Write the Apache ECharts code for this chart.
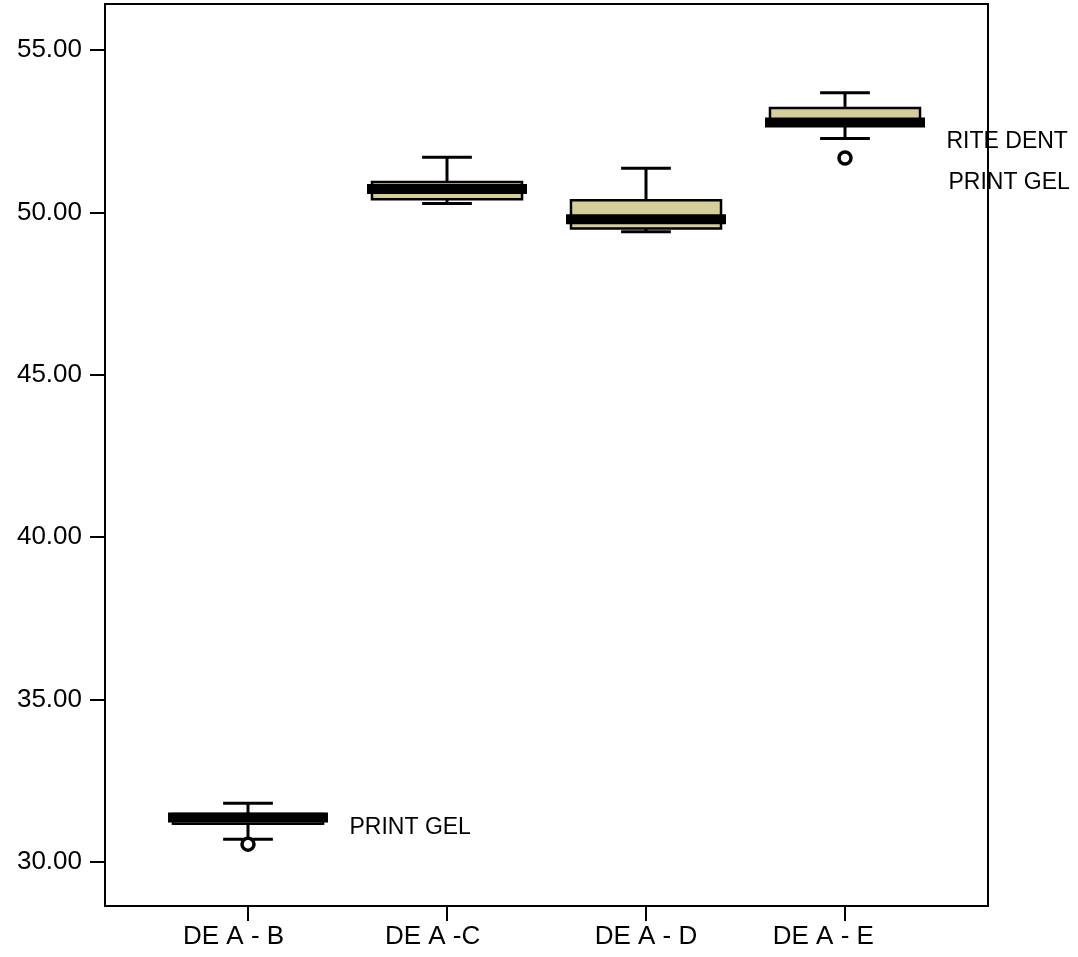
<!DOCTYPE html>
<html><head><meta charset="utf-8">
<script src="https://cdn.jsdelivr.net/npm/echarts@6/dist/echarts.min.js"></script>
<style>html,body{margin:0;padding:0;background:#fff}#c{width:1078px;height:957px}</style>
</head><body><div id="c"></div>
<script>
// ---- data ----
const categories = ['DE A - B    ', 'DE A -C    ', 'DE A - D', 'DE A - E      '];
const whiskerLow  = [30.70, 50.28, 49.41, 52.28];
const q1          = [31.18, 50.41, 49.51, 52.71];
const median      = [31.37, 50.72, 49.79, 52.77];
const q3          = [31.48, 50.94, 50.38, 53.22];
const whiskerHigh = [31.81, 51.70, 51.36, 53.69];
const outliers    = [[0, 30.55], [3, 51.68]];
const annotationX = [0.51, 3.51, 3.52];
const annotationY = [31.05, 52.18, 50.91];
const annotationText = ['PRINT GEL', 'RITE DENT', 'PRINT GEL'];
const yTicks = [30, 35, 40, 45, 50, 55];

const boxData = categories.map((c, i) => [i, whiskerLow[i], q1[i], median[i], q3[i], whiskerHigh[i]]);
const annData = annotationText.map((t, i) => [annotationX[i], annotationY[i], t]);

const SANS = '"Liberation Sans", Arial, sans-serif';

function renderBox(params, api) {
  const i = api.value(0), lo = api.value(1), a = api.value(2), m = api.value(3), b = api.value(4), hi = api.value(5);
  const boxHalf = 0.377, medHalf = 0.402, capHalf = 0.125;
  const pHi = api.coord([i, hi]), pLo = api.coord([i, lo]);
  const pQ1 = api.coord([i, a]), pQ3 = api.coord([i, b]);
  const bl = api.coord([i - boxHalf, b]), br = api.coord([i + boxHalf, a]);
  const ml = api.coord([i - medHalf, m]), mr = api.coord([i + medHalf, m]);
  const chl = api.coord([i - capHalf, hi]), chr = api.coord([i + capHalf, hi]);
  const cll = api.coord([i - capHalf, lo]), clr = api.coord([i + capHalf, lo]);
  const ls = {stroke: '#000', lineWidth: 3};
  return {type: 'group', children: [
    {type: 'line', shape: {x1: pHi[0], y1: pHi[1], x2: pQ3[0], y2: pQ3[1]}, style: ls},
    {type: 'line', shape: {x1: pLo[0], y1: pLo[1], x2: pQ1[0], y2: pQ1[1]}, style: ls},
    {type: 'line', shape: {x1: chl[0], y1: chl[1], x2: chr[0], y2: chr[1]}, style: ls},
    {type: 'line', shape: {x1: cll[0], y1: cll[1], x2: clr[0], y2: clr[1]}, style: ls},
    {type: 'rect', shape: {x: bl[0], y: bl[1], width: br[0] - bl[0], height: br[1] - bl[1]},
      style: {fill: '#d4cf9a', stroke: '#000', lineWidth: 2.5}},
    {type: 'line', shape: {x1: ml[0], y1: ml[1], x2: mr[0], y2: mr[1]}, style: {stroke: '#000', lineWidth: 10}}
  ]};
}

function renderAnn(params, api) {
  const p = api.coord([api.value(0), api.value(1)]);
  return {type: 'text', x: p[0], y: p[1],
    style: {text: annData[params.dataIndex][2], fill: '#000', font: '23px ' + SANS,
      align: 'left', verticalAlign: 'middle', textAlign: 'left', textVerticalAlign: 'middle'}};
}

const chart = echarts.init(document.getElementById('c'), null, {renderer: 'canvas'});
chart.setOption({
  animation: false,
  backgroundColor: '#fff',
  grid: {left: 105, top: 4, right: 90, bottom: 51, show: true, borderColor: '#000', borderWidth: 2,
    backgroundColor: 'transparent', containLabel: false, outerBoundsMode: 'none'},
  xAxis: {
    type: 'value', min: -0.7186, max: 3.7186,
    splitLine: {show: false},
    axisLine: {show: true, onZero: false, lineStyle: {color: '#000', width: 2}},
    axisTick: {show: true, customValues: categories.map((c, i) => i), length: 15, lineStyle: {color: '#000', width: 2}},
    axisLabel: {show: true, customValues: categories.map((c, i) => i), formatter: v => categories[Math.round(v)],
      color: '#000', fontFamily: SANS, fontSize: 26, margin: 18}
  },
  yAxis: {
    type: 'value', min: 28.645, max: 56.42,
    splitLine: {show: false},
    axisLine: {show: true, onZero: false, lineStyle: {color: '#000', width: 2}},
    axisTick: {show: true, customValues: yTicks, length: 15, lineStyle: {color: '#000', width: 2}},
    axisLabel: {show: true, customValues: yTicks, formatter: v => v.toFixed(2),
      color: '#000', fontFamily: SANS, fontSize: 26, margin: 23}
  },
  series: [
    {type: 'custom', renderItem: renderBox, data: boxData, encode: {x: 0, y: [1, 2, 3, 4, 5]}, clip: false, z: 2},
    {type: 'scatter', data: outliers, symbol: 'circle', symbolSize: 12,
      itemStyle: {color: '#fff', borderColor: '#000', borderWidth: 3.5, opacity: 1}, z: 3},
    {type: 'custom', renderItem: renderAnn, data: annData.map(d => [d[0], d[1]]), encode: {x: 0, y: 1}, clip: false, z: 1}
  ]
});
</script></body></html>
